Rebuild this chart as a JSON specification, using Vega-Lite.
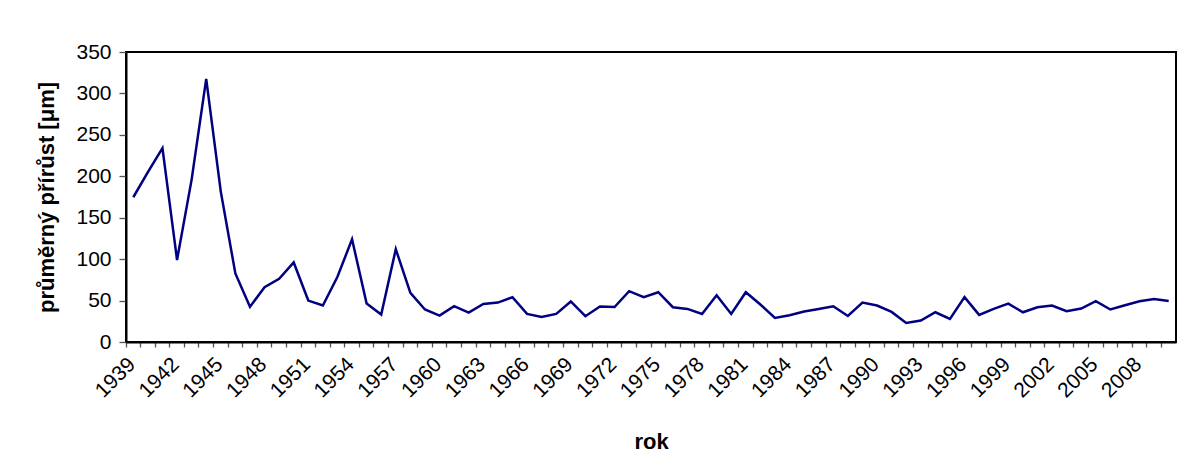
{
  "$schema": "https://vega.github.io/schema/vega-lite/v6.json",
  "width": 1050,
  "height": 290,
  "autosize": "none",
  "padding": {"left": 126, "top": 52, "right": 8, "bottom": 133},
  "background": "white",
  "config": {
    "view": {"stroke": "black", "strokeWidth": 2},
    "font": "Liberation Sans"
  },
  "data": {
    "values": [
      {"year": 1939, "value": 174.7}, {"year": 1940, "value": 205}, {"year": 1941, "value": 234},
      {"year": 1942, "value": 99}, {"year": 1943, "value": 196}, {"year": 1944, "value": 317.5},
      {"year": 1945, "value": 181.5}, {"year": 1946, "value": 82.7}, {"year": 1947, "value": 42.4},
      {"year": 1948, "value": 66.2}, {"year": 1949, "value": 76.3}, {"year": 1950, "value": 96},
      {"year": 1951, "value": 50}, {"year": 1952, "value": 44}, {"year": 1953, "value": 78.7},
      {"year": 1954, "value": 124}, {"year": 1955, "value": 46.4}, {"year": 1956, "value": 33.1},
      {"year": 1957, "value": 112}, {"year": 1958, "value": 59.3}, {"year": 1959, "value": 39.2},
      {"year": 1960, "value": 31.9}, {"year": 1961, "value": 43.2}, {"year": 1962, "value": 35.5},
      {"year": 1963, "value": 46}, {"year": 1964, "value": 47.6}, {"year": 1965, "value": 54.1},
      {"year": 1966, "value": 33.9}, {"year": 1967, "value": 30.2}, {"year": 1968, "value": 33.9},
      {"year": 1969, "value": 48.9}, {"year": 1970, "value": 31.1}, {"year": 1971, "value": 42.8},
      {"year": 1972, "value": 42.2}, {"year": 1973, "value": 61.3}, {"year": 1974, "value": 54.1},
      {"year": 1975, "value": 60.1}, {"year": 1976, "value": 42}, {"year": 1977, "value": 39.9},
      {"year": 1978, "value": 33.9}, {"year": 1979, "value": 56.5}, {"year": 1980, "value": 33.9},
      {"year": 1981, "value": 60.1}, {"year": 1982, "value": 45.2}, {"year": 1983, "value": 29},
      {"year": 1984, "value": 32.3}, {"year": 1985, "value": 36.8}, {"year": 1986, "value": 39.9},
      {"year": 1987, "value": 43.2}, {"year": 1988, "value": 31.4}, {"year": 1989, "value": 47.6},
      {"year": 1990, "value": 44}, {"year": 1991, "value": 36.3}, {"year": 1992, "value": 23},
      {"year": 1993, "value": 25.9}, {"year": 1994, "value": 35.9}, {"year": 1995, "value": 27.8},
      {"year": 1996, "value": 54.1}, {"year": 1997, "value": 32.7}, {"year": 1998, "value": 39.9},
      {"year": 1999, "value": 46.4}, {"year": 2000, "value": 35.9}, {"year": 2001, "value": 42},
      {"year": 2002, "value": 44}, {"year": 2003, "value": 37.1}, {"year": 2004, "value": 40.4},
      {"year": 2005, "value": 49.2}, {"year": 2006, "value": 39.2}, {"year": 2007, "value": 44.4},
      {"year": 2008, "value": 49.2}, {"year": 2009, "value": 52}, {"year": 2010, "value": 49.5}
    ]
  },
  "mark": {"type": "line", "color": "#000080", "strokeWidth": 2.5},
  "encoding": {
    "x": {
      "field": "year",
      "type": "ordinal",
      "bandPosition": 0.5,
      "scale": {"type": "band", "paddingInner": 0, "paddingOuter": 0},
      "axis": {
        "title": "rok",
        "titleFont": "Liberation Sans",
        "titleFontSize": 22,
        "titleFontWeight": "bold",
        "titleColor": "black",
        "titlePadding": 30,
        "bandPosition": 0,
        "labelOffset": -1,
        "labelAngle": -45,
        "labelAlign": "right",
        "labelBaseline": "middle",
        "labelFontSize": 21,
        "labelColor": "black",
        "labelFont": "Liberation Sans",
        "labelPadding": 14,
        "labelExpr": "(toNumber(datum.value) - 1939) % 3 == 0 ? datum.label : ''",
        "labelOverlap": false,
        "labelBound": false,
        "domainColor": "black",
        "domainWidth": 2,
        "tickColor": "#555555",
        "tickWidth": 1.3,
        "tickSize": 5,
        "grid": false
      }
    },
    "y": {
      "field": "value",
      "type": "quantitative",
      "scale": {"domain": [0, 350], "nice": false, "zero": true},
      "axis": {
        "title": "průměrný přírůst [μm]",
        "titleFont": "Liberation Sans",
        "titleFontSize": 22,
        "titleFontWeight": "bold",
        "titleColor": "black",
        "titlePadding": 17,
        "values": [0, 50, 100, 150, 200, 250, 300, 350],
        "labelFontSize": 21,
        "labelColor": "black",
        "labelFont": "Liberation Sans",
        "labelPadding": 8,
        "domainColor": "black",
        "domainWidth": 2,
        "tickColor": "#555555",
        "tickWidth": 1.3,
        "tickSize": 7,
        "grid": false
      }
    }
  }
}
